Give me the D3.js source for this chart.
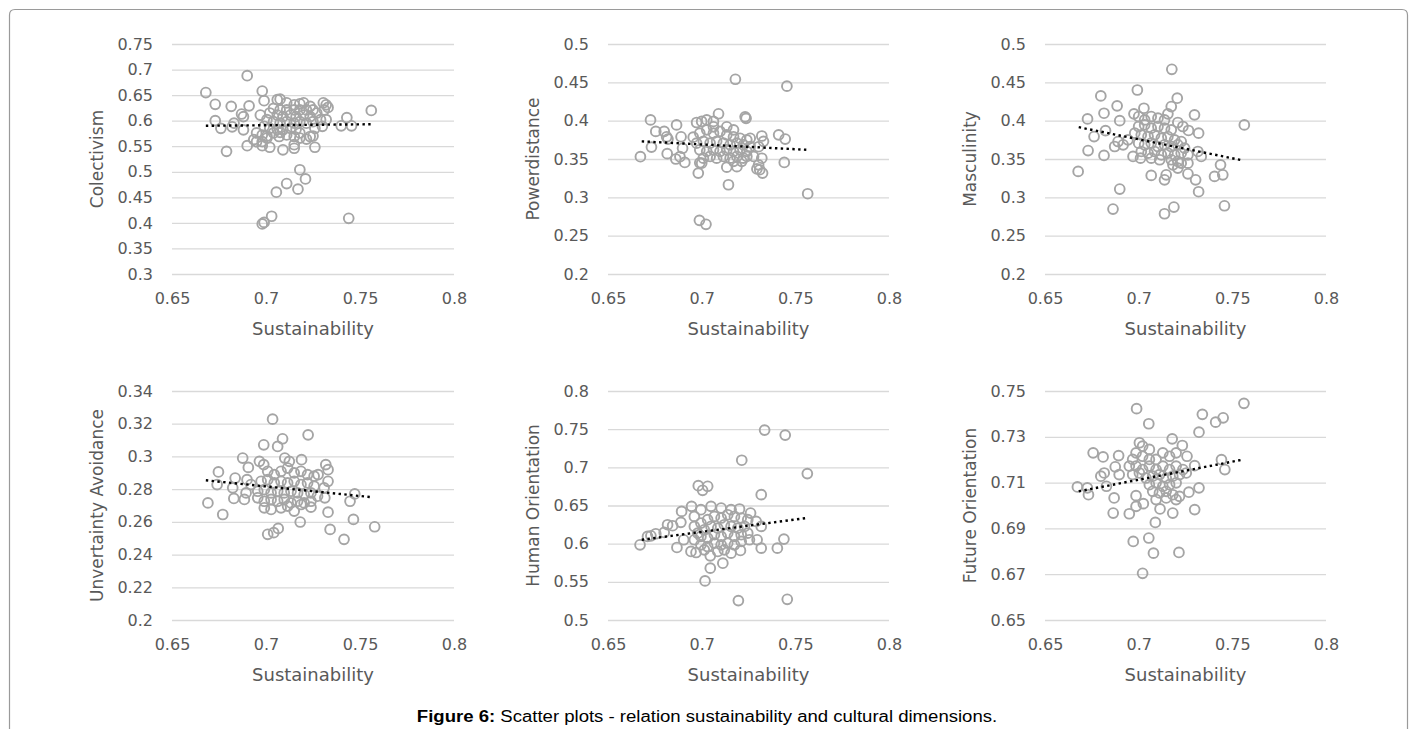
<!DOCTYPE html>
<html>
<head>
<meta charset="utf-8">
<script src="https://cdn.jsdelivr.net/npm/d3@7"></script>
<style>
  body { margin: 0; background: #fff; }
  svg { display: block; }
</style>
</head>
<body>
<svg id="chart"></svg>
<script>
// ---- data ----
var sustainTicks = [0.65, 0.7, 0.75, 0.8];
var dimensionNames = ['Colectivism', 'Powerdistance', 'Masculinity',
                      'Unvertainty Avoidance', 'Human Orientation', 'Future Orientation'];
var yTicks = [
    [0.3, 0.35, 0.4, 0.45, 0.5, 0.55, 0.6, 0.65, 0.7, 0.75],
    [0.2, 0.25, 0.3, 0.35, 0.4, 0.45, 0.5],
    [0.2, 0.25, 0.3, 0.35, 0.4, 0.45, 0.5],
    [0.2, 0.22, 0.24, 0.26, 0.28, 0.3, 0.32, 0.34],
    [0.5, 0.55, 0.6, 0.65, 0.7, 0.75, 0.8],
    [0.65, 0.67, 0.69, 0.71, 0.73, 0.75]
];
var trendX = [0.668, 0.756];
var trendY = [
    [0.590, 0.593],
    [0.373, 0.362],
    [0.3915, 0.348],
    [0.2854, 0.2751],
    [0.6051, 0.6336],
    [0.7062, 0.7201]
];

var colectivism = [
    [0.668,0.655],[0.690,0.688],[0.673,0.632],[0.6815,0.628],[0.691,0.629],[0.673,0.600],
    [0.676,0.585],[0.682,0.588],[0.683,0.595],[0.687,0.613],[0.688,0.608],[0.688,0.582],
    [0.679,0.540],[0.690,0.551],[0.698,0.658],[0.699,0.639],[0.697,0.611],[0.698,0.551],
    [0.702,0.548],[0.709,0.543],[0.715,0.546],[0.715,0.553],[0.726,0.548],[0.718,0.504],
    [0.721,0.486],[0.711,0.477],[0.717,0.466],[0.7055,0.460],[0.703,0.413],[0.698,0.398],
    [0.699,0.401],[0.744,0.409],[0.756,0.620],[0.743,0.606],[0.740,0.590],[0.7455,0.590],
    [0.7305,0.635],[0.732,0.631],[0.733,0.626],[0.731,0.621],[0.732,0.602],[0.730,0.589],
    [0.725,0.570],[0.7235,0.569],[0.7215,0.564],
    [0.706,0.641],[0.7075,0.642],[0.711,0.635],[0.715,0.631],[0.718,0.633],[0.720,0.635],
    [0.7235,0.628],[0.725,0.621],[0.727,0.615],[0.704,0.624],[0.7075,0.621],[0.711,0.621],
    [0.715,0.621],[0.718,0.621],[0.7215,0.621],[0.702,0.615],[0.706,0.611],[0.709,0.608],
    [0.713,0.611],[0.716,0.608],[0.720,0.611],[0.7235,0.608],[0.7005,0.602],[0.704,0.598],
    [0.7075,0.595],[0.711,0.598],[0.715,0.595],[0.718,0.598],[0.7215,0.595],[0.725,0.598],
    [0.729,0.602],[0.699,0.589],[0.702,0.585],[0.706,0.583],[0.709,0.582],[0.713,0.585],
    [0.716,0.583],[0.726,0.585],[0.695,0.576],[0.698,0.572],[0.7005,0.570],[0.704,0.576],
    [0.7075,0.577],[0.711,0.572],[0.715,0.569],[0.718,0.576],[0.6935,0.563],[0.695,0.559],
    [0.698,0.559],[0.7005,0.566],[0.707,0.569],[0.718,0.566]
];

var powerdistance = [
    [0.6673,0.353],[0.6727,0.401],[0.6732,0.3655],[0.6755,0.386],[0.680,0.386],[0.6813,0.379],
    [0.682,0.376],[0.6816,0.357],[0.6866,0.3945],[0.6862,0.350],[0.6884,0.353],[0.689,0.379],
    [0.6898,0.364],[0.691,0.3455],[0.6955,0.3785],[0.6982,0.3316],[0.699,0.345],[0.6988,0.270],
    [0.7023,0.2648],[0.6973,0.3976],[0.700,0.399],[0.7027,0.401],[0.7063,0.399],[0.709,0.409],
    [0.7063,0.392],[0.7134,0.392],[0.717,0.388],[0.718,0.454],[0.7455,0.445],[0.7232,0.405],
    [0.7237,0.403],[0.7259,0.377],[0.7321,0.380],[0.733,0.373],[0.7304,0.366],[0.7411,0.3815],
    [0.7446,0.376],[0.7441,0.3455],[0.7566,0.3047],[0.7321,0.351],[0.7304,0.3424],[0.7295,0.337],
    [0.7325,0.3316],[0.731,0.336],[0.7143,0.3164],[0.7134,0.3394],[0.7188,0.340],[0.7214,0.347],
    [0.699,0.3837],[0.7027,0.388],[0.7063,0.3837],[0.7098,0.386],[0.7134,0.3815],[0.717,0.379],
    [0.7205,0.377],[0.7241,0.375],[0.6973,0.3707],[0.7009,0.373],[0.7045,0.3707],[0.708,0.373],
    [0.7116,0.3707],[0.7152,0.3685],[0.7188,0.3707],[0.7223,0.3685],[0.7259,0.3663],[0.699,0.362],
    [0.7027,0.360],[0.7063,0.362],[0.7098,0.360],[0.7134,0.362],[0.717,0.360],[0.7205,0.362],
    [0.7241,0.360],[0.7009,0.3511],[0.7045,0.3533],[0.708,0.3511],[0.7116,0.3533],[0.7152,0.3511],
    [0.7188,0.3533],[0.7223,0.3511],[0.700,0.3446],[0.717,0.347],[0.7241,0.3533],[0.7277,0.3533]
];

var masculinity = [
    [0.6677,0.3338],[0.6727,0.4023],[0.673,0.361],[0.6762,0.3793],[0.6798,0.4323],[0.6815,0.4097],
    [0.6823,0.387],[0.6815,0.3546],[0.6863,0.2847],[0.6885,0.4193],[0.6899,0.400],[0.6899,0.3108],
    [0.6872,0.3663],[0.689,0.3728],[0.6917,0.3685],[0.6943,0.375],[0.6993,0.440],[0.6975,0.4089],
    [0.697,0.3533],[0.701,0.3511],[0.7028,0.4162],[0.7067,0.3286],[0.7138,0.3229],[0.7147,0.3294],
    [0.7138,0.2786],[0.7188,0.2873],[0.7177,0.467],[0.7206,0.4293],[0.7174,0.4184],[0.7156,0.4089],
    [0.7209,0.3976],[0.7236,0.3924],[0.7266,0.3872],[0.7298,0.4076],[0.732,0.3837],[0.7316,0.3598],
    [0.7334,0.3533],[0.7263,0.3446],[0.7263,0.3307],[0.7304,0.3229],[0.732,0.3073],[0.7405,0.3273],
    [0.7437,0.3424],[0.7449,0.3294],[0.7458,0.289],[0.7564,0.3945],[0.7209,0.3381],
    [0.700,0.4054],[0.7032,0.401],[0.7067,0.4054],[0.7103,0.4032],[0.7138,0.401],[0.700,0.3924],
    [0.7032,0.3945],[0.7067,0.3902],[0.7103,0.3924],[0.7138,0.3902],[0.7174,0.388],[0.6979,0.3837],
    [0.7014,0.3815],[0.705,0.3793],[0.7085,0.3815],[0.7121,0.3772],[0.7156,0.3793],[0.7192,0.375],
    [0.7227,0.3728],[0.700,0.3707],[0.7032,0.3685],[0.7067,0.3707],[0.7103,0.3663],[0.7138,0.3685],
    [0.7174,0.3663],[0.7209,0.3685],[0.7245,0.3642],[0.7014,0.3598],[0.705,0.3576],[0.7085,0.3598],
    [0.7121,0.3555],[0.7156,0.3576],[0.7192,0.3555],[0.7227,0.3576],[0.7263,0.3555],[0.7067,0.3511],
    [0.7112,0.349],[0.7174,0.349],[0.7209,0.3468],[0.7183,0.3424],[0.7227,0.3446]
];

var uncertainty = [
    [0.6691,0.2716],[0.6747,0.2905],[0.674,0.2828],[0.677,0.2645],[0.6823,0.2808],[0.6836,0.2868],
    [0.6829,0.2743],[0.6876,0.299],[0.6899,0.2858],[0.6906,0.2933],[0.6885,0.2737],[0.6894,0.2777],
    [0.692,0.2828],[0.6965,0.297],[0.6988,0.3071],[0.6988,0.295],[0.7035,0.3228],[0.7062,0.3061],
    [0.7088,0.3108],[0.710,0.299],[0.7124,0.297],[0.7009,0.2524],[0.7041,0.2534],[0.7065,0.256],
    [0.7182,0.2599],[0.7224,0.3132],[0.7189,0.298],[0.7318,0.295],[0.733,0.2919],[0.733,0.2848],
    [0.7277,0.2889],[0.7309,0.2808],[0.7313,0.2747],[0.733,0.2659],[0.7341,0.2554],[0.7415,0.2493],
    [0.7472,0.2771],[0.7447,0.2726],[0.7465,0.2615],[0.7578,0.257],[0.715,0.2666],[0.7239,0.269],
    [0.7009,0.2909],[0.7044,0.2889],[0.708,0.2909],[0.7115,0.2929],[0.715,0.2899],[0.7186,0.2909],
    [0.7221,0.2889],[0.7256,0.2879],[0.6974,0.2848],[0.7009,0.2858],[0.7044,0.2838],[0.708,0.2848],
    [0.7115,0.2838],[0.715,0.2848],[0.7186,0.2828],[0.7221,0.2838],[0.7256,0.2818],[0.6956,0.2787],
    [0.6991,0.2797],[0.7027,0.2777],[0.7062,0.2787],[0.7097,0.2777],[0.7133,0.2787],[0.7168,0.2777],
    [0.7203,0.2767],[0.7239,0.2777],[0.7274,0.2757],[0.6956,0.2747],[0.6991,0.2726],[0.7027,0.2737],
    [0.7062,0.2726],[0.7097,0.2737],[0.7133,0.2716],[0.7168,0.2726],[0.7203,0.2716],[0.7239,0.2726],
    [0.6991,0.2686],[0.7027,0.2676],[0.708,0.2686],[0.7115,0.2696],[0.7186,0.2706]
];

var humanOrientation = [
    [0.6671,0.5985],[0.6711,0.6095],[0.6729,0.6103],[0.6755,0.613],[0.680,0.6147],[0.6818,0.6248],
    [0.6845,0.6235],[0.6868,0.595],[0.6889,0.6279],[0.6893,0.6423],[0.6904,0.6051],[0.6946,0.6489],
    [0.6943,0.5898],[0.697,0.5884],[0.6982,0.676],[0.7005,0.6699],[0.7032,0.6752],[0.6961,0.6357],
    [0.6996,0.6445],[0.7018,0.5512],[0.7046,0.5679],[0.7046,0.5841],[0.7113,0.5744],[0.705,0.6489],
    [0.7104,0.6467],[0.7157,0.6445],[0.7202,0.6454],[0.7261,0.6401],[0.7214,0.7093],[0.7336,0.7488],
    [0.7446,0.7422],[0.7564,0.6918],[0.7318,0.6642],[0.7291,0.6292],[0.7318,0.6226],[0.7296,0.6051],
    [0.7318,0.5941],[0.7255,0.6051],[0.7404,0.5941],[0.7439,0.606],[0.7196,0.5254],[0.7457,0.5271],
    [0.7157,0.5876],[0.7207,0.5911],
    [0.6961,0.6226],[0.6996,0.627],[0.7032,0.6314],[0.7068,0.6357],[0.7104,0.6336],[0.7139,0.6379],
    [0.7175,0.6357],[0.7211,0.6336],[0.7246,0.6314],[0.6979,0.6138],[0.7014,0.6182],[0.705,0.6226],
    [0.7086,0.6204],[0.7121,0.6248],[0.7157,0.6226],[0.7193,0.6204],[0.7229,0.6226],[0.6961,0.6051],
    [0.6996,0.6095],[0.7032,0.6073],[0.7068,0.6117],[0.7104,0.6095],[0.7139,0.6138],[0.7175,0.6095],
    [0.7211,0.6117],[0.7246,0.6138],[0.6996,0.5985],[0.7032,0.5963],[0.7068,0.6007],[0.7104,0.5985],
    [0.7139,0.6007],[0.7175,0.5985],[0.7211,0.6029],[0.7086,0.5898],[0.7121,0.5919],[0.7014,0.5919]
];

var futureOrientation = [
    [0.6673,0.7081],[0.6726,0.7077],[0.6732,0.7047],[0.6757,0.723],[0.6798,0.7128],[0.681,0.7212],
    [0.6816,0.7142],[0.6828,0.7084],[0.6869,0.7033],[0.6864,0.6967],[0.6893,0.7218],[0.6875,0.7169],
    [0.6896,0.7135],[0.695,0.6964],[0.6971,0.6843],[0.6989,0.7423],[0.7054,0.7357],[0.7054,0.6858],
    [0.7079,0.6792],[0.7089,0.6926],[0.7021,0.6704],[0.7215,0.6795],[0.7179,0.7291],[0.7233,0.7262],
    [0.7258,0.7215],[0.7299,0.7174],[0.7322,0.732],[0.734,0.7398],[0.7411,0.7364],[0.7451,0.7383],
    [0.7562,0.7446],[0.7442,0.720],[0.746,0.7157],[0.7322,0.7077],[0.7268,0.7058],[0.7299,0.6982],
    [0.7182,0.6967],[0.7114,0.6985],[0.6986,0.6996],[0.6986,0.7043],[0.7025,0.7008],[0.7218,0.704],
    [0.7004,0.7274],[0.7021,0.7259],[0.7057,0.7245],[0.6986,0.723],[0.6968,0.7201],[0.7021,0.7215],
    [0.7057,0.7201],[0.7093,0.7201],[0.7129,0.723],[0.7165,0.7215],[0.720,0.723],[0.695,0.7172],
    [0.6986,0.7172],[0.7021,0.7157],[0.7057,0.7172],[0.7093,0.7157],[0.7129,0.7172],[0.7165,0.7157],
    [0.720,0.7172],[0.7236,0.7157],[0.6968,0.7135],[0.7004,0.7142],[0.7039,0.712],[0.7075,0.7128],
    [0.7111,0.7135],[0.7147,0.712],[0.7182,0.7128],[0.7218,0.7135],[0.7254,0.7142],[0.7057,0.7091],
    [0.7093,0.7099],[0.7129,0.7084],[0.7165,0.7091],[0.720,0.7099],[0.7075,0.7062],[0.7111,0.7055],
    [0.7147,0.7062],[0.7182,0.7047],[0.7093,0.7026],[0.7147,0.7033],[0.720,0.7026]
];

var panelData = [colectivism, powerdistance, masculinity, uncertainty, humanOrientation, futureOrientation];

// ---- layout ----
var width = 1414,
    height = 729,
    cols = [[172, 454], [608, 889], [1045, 1326]],
    rows = [[44, 274], [391, 620]],
    textColor = '#595959',
    pointColor = '#a5a5a5';

var svg = d3.select('#chart')
    .attr('width', width)
    .attr('height', height);

// figure frame (open at the bottom, rounded top corners)
svg.append('path')
    .attr('d', 'M9.5,729 L9.5,15 Q9.5,9.5 15,9.5 L1402,9.5 Q1407.5,9.5 1407.5,15 L1407.5,729')
    .attr('fill', 'none')
    .attr('stroke', '#9a9a9a')
    .attr('stroke-width', 1.2);

dimensionNames.forEach(function (name, i) {
    var c = cols[i % 3],
        r = rows[Math.floor(i / 3)],
        ticks = yTicks[i],
        w = c[1] - c[0],
        h = r[1] - r[0];

    var x = d3.scaleLinear().domain([0.65, 0.8]).range([0, w]);
    var y = d3.scaleLinear().domain([ticks[0], ticks[ticks.length - 1]]).range([h, 0]);

    var g = svg.append('g').attr('transform', 'translate(' + c[0] + ',' + r[0] + ')');

    // gridlines + y labels
    var yAxis = g.append('g')
        .call(d3.axisLeft(y).tickValues(ticks).tickSize(-w).tickPadding(19)
            .tickFormat(function (d) { return String(d); }));
    yAxis.select('.domain').remove();
    yAxis.selectAll('line').attr('stroke', '#d9d9d9').attr('stroke-width', 1.3);
    yAxis.selectAll('text')
        .attr('fill', textColor)
        .style('font-family', 'DejaVu Sans')
        .style('font-size', '16px');

    // x labels
    var xAxis = g.append('g')
        .attr('transform', 'translate(0,' + h + ')')
        .call(d3.axisBottom(x).tickValues(sustainTicks).tickSize(0).tickPadding(19)
            .tickFormat(function (d) { return String(d); }));
    xAxis.select('.domain').remove();
    xAxis.selectAll('text')
        .attr('fill', textColor)
        .style('font-family', 'DejaVu Sans')
        .style('font-size', '16px');

    // points
    g.append('g').selectAll('circle')
        .data(panelData[i])
        .enter().append('circle')
        .attr('cx', function (d) { return x(d[0]); })
        .attr('cy', function (d) { return y(d[1]); })
        .attr('r', 4.9)
        .attr('fill', 'none')
        .attr('stroke', pointColor)
        .attr('stroke-width', 1.9);

    // linear trendline
    g.append('path')
        .datum([[trendX[0], trendY[i][0]], [trendX[1], trendY[i][1]]])
        .attr('d', d3.line()
            .x(function (d) { return x(d[0]); })
            .y(function (d) { return y(d[1]); }))
        .attr('fill', 'none')
        .attr('stroke', '#000')
        .attr('stroke-width', 2.4)
        .attr('stroke-dasharray', '2.4 3.4');

    // axis titles
    g.append('text')
        .attr('transform', 'translate(-75,' + (h / 2) + ') rotate(-90)')
        .attr('text-anchor', 'middle')
        .attr('dominant-baseline', 'central')
        .attr('fill', textColor)
        .style('font-family', 'DejaVu Sans')
        .style('font-size', '17px')
        .text(name);

    g.append('text')
        .attr('x', w / 2)
        .attr('y', h + 61)
        .attr('text-anchor', 'middle')
        .attr('fill', textColor)
        .style('font-family', 'DejaVu Sans')
        .style('font-size', '18px')
        .text('Sustainability');
});

// caption (the source image is slightly stretched horizontally)
var caption = svg.append('text')
    .attr('transform', 'translate(707,722) scale(1.16,1)')
    .attr('text-anchor', 'middle')
    .attr('fill', '#000')
    .style('font-family', 'Liberation Sans, Arial, sans-serif')
    .style('font-size', '16px');
caption.append('tspan').style('font-weight', 'bold').text('Figure 6:');
caption.append('tspan').text(' Scatter plots - relation sustainability and cultural dimensions.');
</script>
</body>
</html>
